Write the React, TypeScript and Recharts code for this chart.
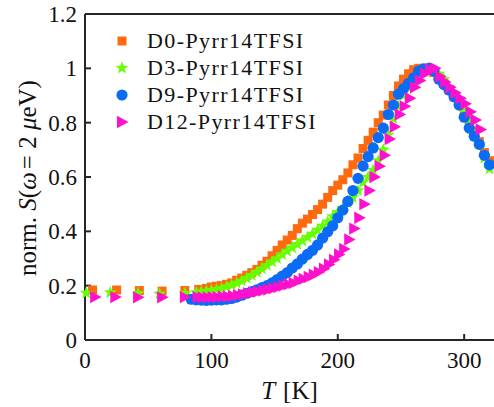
import React from 'react';
import { ScatterChart, Scatter, XAxis, YAxis, Legend } from 'recharts';

const xTicks = [0, 100, 200, 300];
const yTicks = [0, 0.2, 0.4, 0.6, 0.8, 1, 1.2];

const d0T = [6, 25, 43, 61, 79, 90, 96, 100, 104, 108, 112, 116, 120, 124, 128, 132, 136, 140, 144, 148, 152, 156, 160, 164, 168, 172, 176, 180, 184, 188, 192, 196, 200, 204, 208, 212, 216, 220, 224, 228, 232, 236, 240, 244, 248, 252, 256, 260, 264, 268, 272, 276, 280, 284, 288, 292, 296, 300, 304, 308, 312, 316, 320];
const d0S = [0.184, 0.184, 0.182, 0.18, 0.182, 0.186, 0.19, 0.195, 0.198, 0.2, 0.205, 0.21, 0.22, 0.228, 0.238, 0.248, 0.26, 0.275, 0.29, 0.31, 0.33, 0.35, 0.368, 0.385, 0.41, 0.43, 0.445, 0.462, 0.48, 0.5, 0.525, 0.55, 0.57, 0.59, 0.615, 0.645, 0.67, 0.705, 0.735, 0.765, 0.8, 0.828, 0.865, 0.9, 0.935, 0.96, 0.98, 0.995, 1.0, 1.0, 0.995, 0.985, 0.965, 0.945, 0.92, 0.895, 0.87, 0.84, 0.81, 0.77, 0.73, 0.69, 0.66];

const d3T = [1, 20, 42, 59, 79, 88, 92, 96, 100, 104, 108, 112, 116, 120, 124, 128, 132, 136, 140, 144, 148, 152, 156, 160, 164, 168, 172, 176, 180, 184, 188, 192, 196, 200, 204, 208, 212, 216, 220, 224, 228, 232, 236, 240, 244, 248, 252, 256, 260, 264, 268, 272, 276, 280, 284, 288, 292, 296, 300, 304, 308, 312, 316, 320];
const d3S = [0.173, 0.175, 0.172, 0.17, 0.172, 0.175, 0.178, 0.18, 0.183, 0.186, 0.19, 0.196, 0.203, 0.21, 0.218, 0.228, 0.238, 0.25, 0.262, 0.275, 0.288, 0.3, 0.315, 0.328, 0.34, 0.352, 0.365, 0.378, 0.39, 0.405, 0.42, 0.435, 0.455, 0.47, 0.485, 0.505, 0.525, 0.55, 0.58, 0.6, 0.625, 0.66, 0.7, 0.755, 0.815, 0.86, 0.9, 0.93, 0.955, 0.975, 0.99, 1.0, 0.995, 0.98, 0.96, 0.93, 0.9, 0.87, 0.84, 0.8, 0.76, 0.72, 0.67, 0.63];

const d9T = [84, 88, 92, 96, 100, 104, 108, 112, 116, 120, 124, 128, 132, 136, 140, 144, 148, 152, 156, 160, 164, 168, 172, 176, 180, 184, 188, 192, 196, 200, 204, 208, 212, 216, 220, 224, 228, 232, 236, 240, 244, 248, 252, 256, 260, 264, 268, 272, 276, 280, 284, 288, 292, 296, 300, 304, 308, 312, 316, 320];
const d9S = [0.15, 0.148, 0.147, 0.146, 0.147, 0.148, 0.148, 0.15, 0.153, 0.158, 0.165, 0.172, 0.178, 0.185, 0.193, 0.2, 0.21, 0.222, 0.235, 0.248, 0.265, 0.28, 0.298, 0.315, 0.33, 0.35, 0.375, 0.398, 0.42, 0.45, 0.478, 0.51, 0.55, 0.595, 0.64, 0.675, 0.707, 0.745, 0.78, 0.83, 0.865, 0.905, 0.925, 0.945, 0.965, 0.99, 0.998, 1.0, 0.99, 0.96, 0.94, 0.92, 0.895, 0.865, 0.82, 0.78, 0.75, 0.72, 0.68, 0.645];

const d12T = [8, 24, 42, 61, 79, 89, 93, 97, 101, 105, 109, 113, 117, 121, 125, 129, 133, 137, 141, 145, 149, 153, 157, 161, 165, 169, 173, 177, 181, 185, 189, 193, 197, 201, 205, 209, 213, 217, 221, 225, 229, 233, 237, 241, 245, 249, 253, 257, 261, 265, 269, 273, 277, 281, 285, 289, 293, 297, 301, 305, 309, 313];
const d12S = [0.158, 0.158, 0.157, 0.157, 0.158, 0.158, 0.157, 0.157, 0.158, 0.158, 0.16, 0.16, 0.162, 0.165, 0.168, 0.172, 0.175, 0.178, 0.182, 0.186, 0.19, 0.195, 0.2, 0.205, 0.21, 0.218, 0.225, 0.232, 0.24, 0.25, 0.262, 0.278, 0.295, 0.315, 0.335, 0.37, 0.41, 0.45, 0.5, 0.55, 0.6, 0.64, 0.68, 0.74, 0.785, 0.83, 0.86, 0.89, 0.93, 0.955, 0.98, 0.995, 1.0, 0.97, 0.95, 0.93, 0.91, 0.89, 0.87, 0.84, 0.81, 0.775];

const seriesNames = ['D0-Pyrr14TFSI', 'D3-Pyrr14TFSI', 'D9-Pyrr14TFSI', 'D12-Pyrr14TFSI'];
const colors = ['#FF6A10', '#66FF00', '#0A6CF5', '#FF10CC'];

const zip = (t: number[], s: number[]) => t.map((v, i) => ({ t: v, s: s[i] }));
const d0 = zip(d0T, d0S);
const d3 = zip(d3T, d3S);
const d9 = zip(d9T, d9S);
const d12 = zip(d12T, d12S);

const FONT = '"Liberation Serif", "Times New Roman", serif';
const AX = '#262626';

const starPoints = (cx: number, cy: number, ro: number, ri: number) => {
  const pts: string[] = [];
  for (let i = 0; i < 10; i++) {
    const r = i % 2 === 0 ? ro : ri;
    const a = -Math.PI / 2 + (i * Math.PI) / 5;
    pts.push(`${cx + r * Math.cos(a)},${cy + r * Math.sin(a)}`);
  }
  return pts.join(' ');
};

const Marker = ({ kind, cx, cy, color }: { kind: number; cx: number; cy: number; color: string }) => {
  if (kind === 0) return <rect x={cx - 4.5} y={cy - 4.5} width={9} height={9} fill={color} />;
  if (kind === 1) return <polygon points={starPoints(cx, cy, 6.8, 2.8)} fill={color} />;
  if (kind === 2) return <circle cx={cx} cy={cy} r={5.6} fill={color} />;
  return <polygon points={`${cx - 5},${cy - 6.2} ${cx + 6.5},${cy} ${cx - 5},${cy + 6.2}`} fill={color} />;
};

const mkShape = (kind: number) => (props: any) => {
  if (props.cx == null || props.cy == null) return <g />;
  return <Marker kind={kind} cx={props.cx} cy={props.cy} color={colors[kind]} />;
};

const LegendBox = () => (
  <svg width={230} height={115} style={{ overflow: 'visible' }}>
    {seriesNames.map((n, i) => (
      <g key={n}>
        <Marker kind={i} cx={22} cy={16 + i * 27} color={colors[i]} />
        <text x={47} y={16 + i * 27} dy="0.34em" fontFamily={FONT} fontSize={22} letterSpacing={1.4} fill="#111">
          {n}
        </text>
      </g>
    ))}
  </svg>
);

const XLabel = (props: any) => {
  const vb = props.viewBox || {};
  const cx = vb.x + vb.width / 2;
  return (
    <text x={cx} y={399} textAnchor="middle" fontFamily={FONT} fontSize={25} fill="#111">
      <tspan fontStyle="italic">T</tspan>
      <tspan dx={8}>[K]</tspan>
    </text>
  );
};

const YLabel = () => (
  <text x={0} y={0} transform="translate(36,178) rotate(-90)" textAnchor="middle" fontFamily={FONT} fontSize={25} fill="#111">
    <tspan>norm. </tspan>
    <tspan fontStyle="italic">S</tspan>
    <tspan>(</tspan>
    <tspan fontStyle="italic">ω</tspan>
    <tspan dx={3}>= 2 </tspan>
    <tspan fontStyle="italic">μ</tspan>
    <tspan>eV)</tspan>
  </text>
);

export default function App() {
  return (
    <div style={{ position: 'absolute', left: 0, top: 0, width: 494, height: 407, background: '#fff' }}>
      <ScatterChart width={494} height={407} margin={{ top: 13, right: 0, bottom: 0, left: 0 }}>
        <XAxis
          xAxisId={0}
          dataKey="t"
          type="number"
          domain={[0, 323.6]}
          ticks={xTicks}
          height={67}
          tickSize={-6}
          tickMargin={18}
          stroke={AX}
          strokeWidth={2}
          tick={{ fontFamily: FONT, fontSize: 23, fill: '#111' }}
          label={<XLabel />}
        />
        <XAxis
          xAxisId="top"
          orientation="top"
          type="number"
          domain={[0, 323.6]}
          ticks={xTicks}
          interval={0}
          height={1}
          tickSize={-6}
          tickMargin={2}
          tick={{ fontSize: 1, fill: 'none' }}
          stroke={AX}
          strokeWidth={2}
        />
        <YAxis
          dataKey="s"
          type="number"
          domain={[0, 1.2]}
          ticks={yTicks}
          width={85}
          tickSize={-6}
          tickMargin={14}
          stroke={AX}
          strokeWidth={2}
          tick={{ fontFamily: FONT, fontSize: 23, fill: '#111' }}
          label={<YLabel />}
        />
        <Legend
          layout="vertical"
          align="center"
          verticalAlign="middle"
          content={<LegendBox />}
          wrapperStyle={{ position: 'absolute', left: 100, top: 25, width: 230, height: 115 }}
        />
        <Scatter name={seriesNames[0]} data={d0} fill={colors[0]} shape={mkShape(0)} isAnimationActive={false} />
        <Scatter name={seriesNames[1]} data={d3} fill={colors[1]} shape={mkShape(1)} isAnimationActive={false} />
        <Scatter name={seriesNames[2]} data={d9} fill={colors[2]} shape={mkShape(2)} isAnimationActive={false} />
        <Scatter name={seriesNames[3]} data={d12} fill={colors[3]} shape={mkShape(3)} isAnimationActive={false} />
      </ScatterChart>
    </div>
  );
}
